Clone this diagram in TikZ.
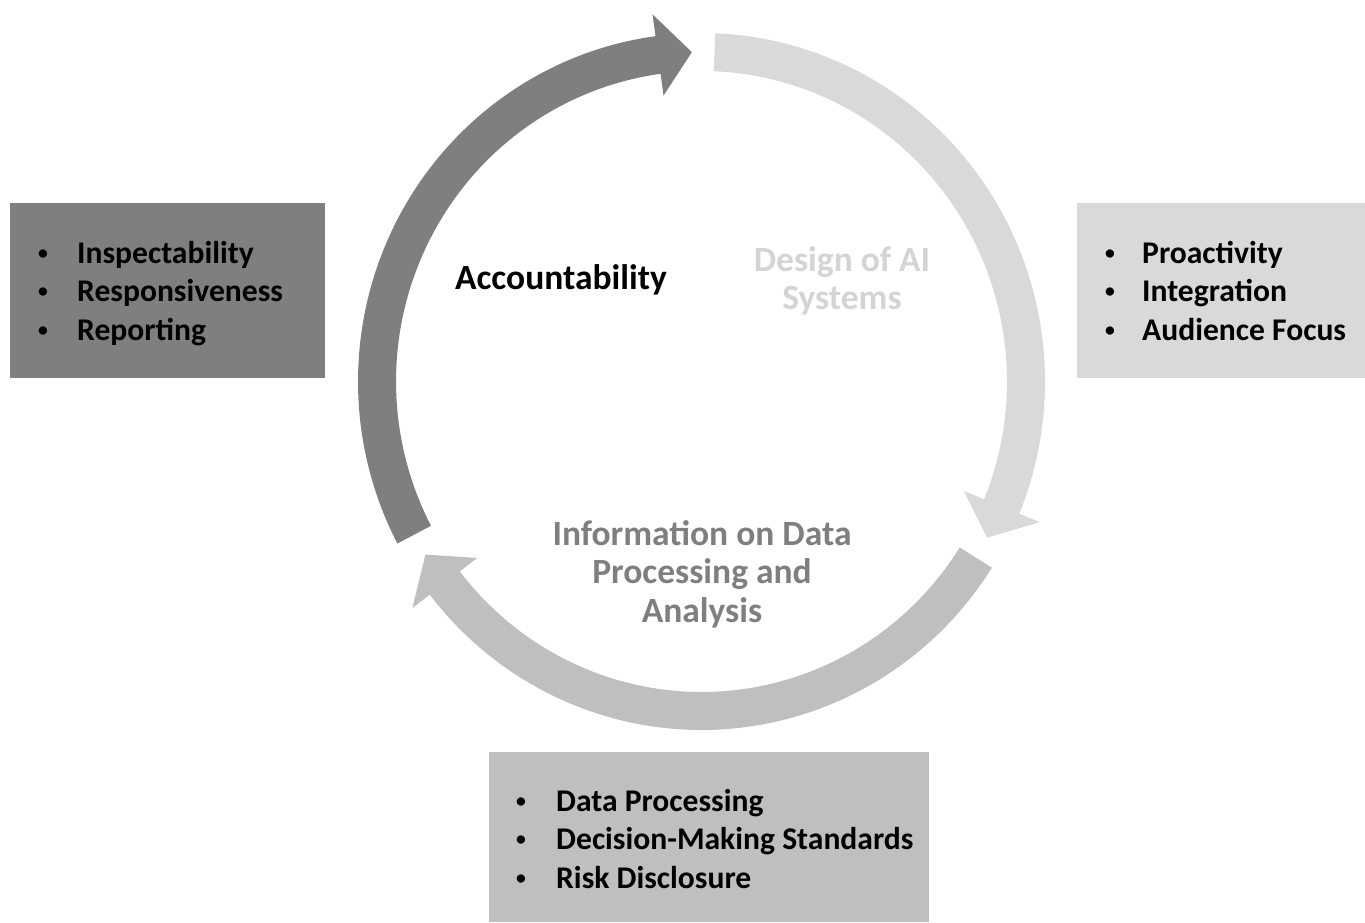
\documentclass[tikz,border=0pt]{standalone}
\usepackage{fontspec}
\setmainfont{Carlito}
\definecolor{arrD}{HTML}{7F7F7F}
\definecolor{arrL}{HTML}{D9D9D9}
\definecolor{arrM}{HTML}{BFBFBF}
\definecolor{txtL}{HTML}{D4D4D4}
\definecolor{txtM}{HTML}{7F7F7F}
\tikzset{
  lbl/.style={font=\fontsize{35.5}{38.5}\selectfont\bfseries, align=center, inner sep=0pt},
  boxnode/.style={rectangle, inner sep=0pt, draw=none},
  listnode/.style={font=\fontsize{31.6}{38.5}\selectfont\bfseries, anchor=west, inner sep=0pt, text=black}
}
\newcommand{\smbul}{\raisebox{0.13em}{\scalebox{0.62}{\textbullet}}}
\newcommand{\blist}[4]{\begin{tabular}{@{}p{#1}@{}l@{}}\smbul & #2\\ \smbul & #3\\ \smbul & #4\end{tabular}}
\begin{document}
\begin{tikzpicture}[x=1pt,y=1pt]
\useasboundingbox (0,0) rectangle (1365,922);
% circular arrows
\begin{scope}[shift={(701.5,540.5)}]
\fill[arrD] (207.7:343.5 and 348.5) arc[start angle=207.7, end angle=97.7, x radius=343.5, y radius=348.5]
  -- (97.7:365.5 and 370.5) -- (91.7:324.5 and 329.5) -- (97.7:283.5 and 288.5) -- (97.7:305.5 and 310.5)
  arc[start angle=97.7, end angle=207.7, x radius=305.5, y radius=310.5] -- cycle;
\fill[arrL] (87.7:343.5 and 348.5) arc[start angle=87.7, end angle=-22.3, x radius=343.5, y radius=348.5]
  -- (-22.3:365.5 and 370.5) -- (-28.3:324.5 and 329.5) -- (-22.3:283.5 and 288.5) -- (-22.3:305.5 and 310.5)
  arc[start angle=-22.3, end angle=87.7, x radius=305.5, y radius=310.5] -- cycle;
\fill[arrM] (-32.3:343.5 and 348.5) arc[start angle=-32.3, end angle=-142.3, x radius=343.5, y radius=348.5]
  -- (-142.3:365.5 and 370.5) -- (-148.3:324.5 and 329.5) -- (-142.3:283.5 and 288.5) -- (-142.3:305.5 and 310.5)
  arc[start angle=-142.3, end angle=-32.3, x radius=305.5, y radius=310.5] -- cycle;
\end{scope}
% centre labels
\node[lbl, text=black] (acc) at (561,642) {Accountability};
\node[lbl, text=txtL] (des) at (842,641) {Design of AI\\Systems};
\node[lbl, text=txtM] (inf) at (702,348) {Information on Data\\Processing and\\Analysis};
% boxes
\node[boxnode, fill=arrD, minimum width=315pt, minimum height=175pt] (lbox) at (167.5,631.5) {};
\node[boxnode, fill=arrL, minimum width=288pt, minimum height=175pt] (rbox) at (1221,631.5) {};
\node[boxnode, fill=arrM, minimum width=440pt, minimum height=170pt] (bbox) at (709,85) {};
\node[listnode] (ltxt) at (38,628) {\blist{39pt}{Inspectability}{Responsiveness}{Reporting}};
\node[listnode] (rtxt) at (1105,628) {\blist{37pt}{Proactivity}{Integration}{Audience Focus}};
\node[listnode] (btxt) at (516,80) {\blist{40pt}{Data Processing}{Decision-Making Standards}{Risk Disclosure}};
\end{tikzpicture}
\end{document}
